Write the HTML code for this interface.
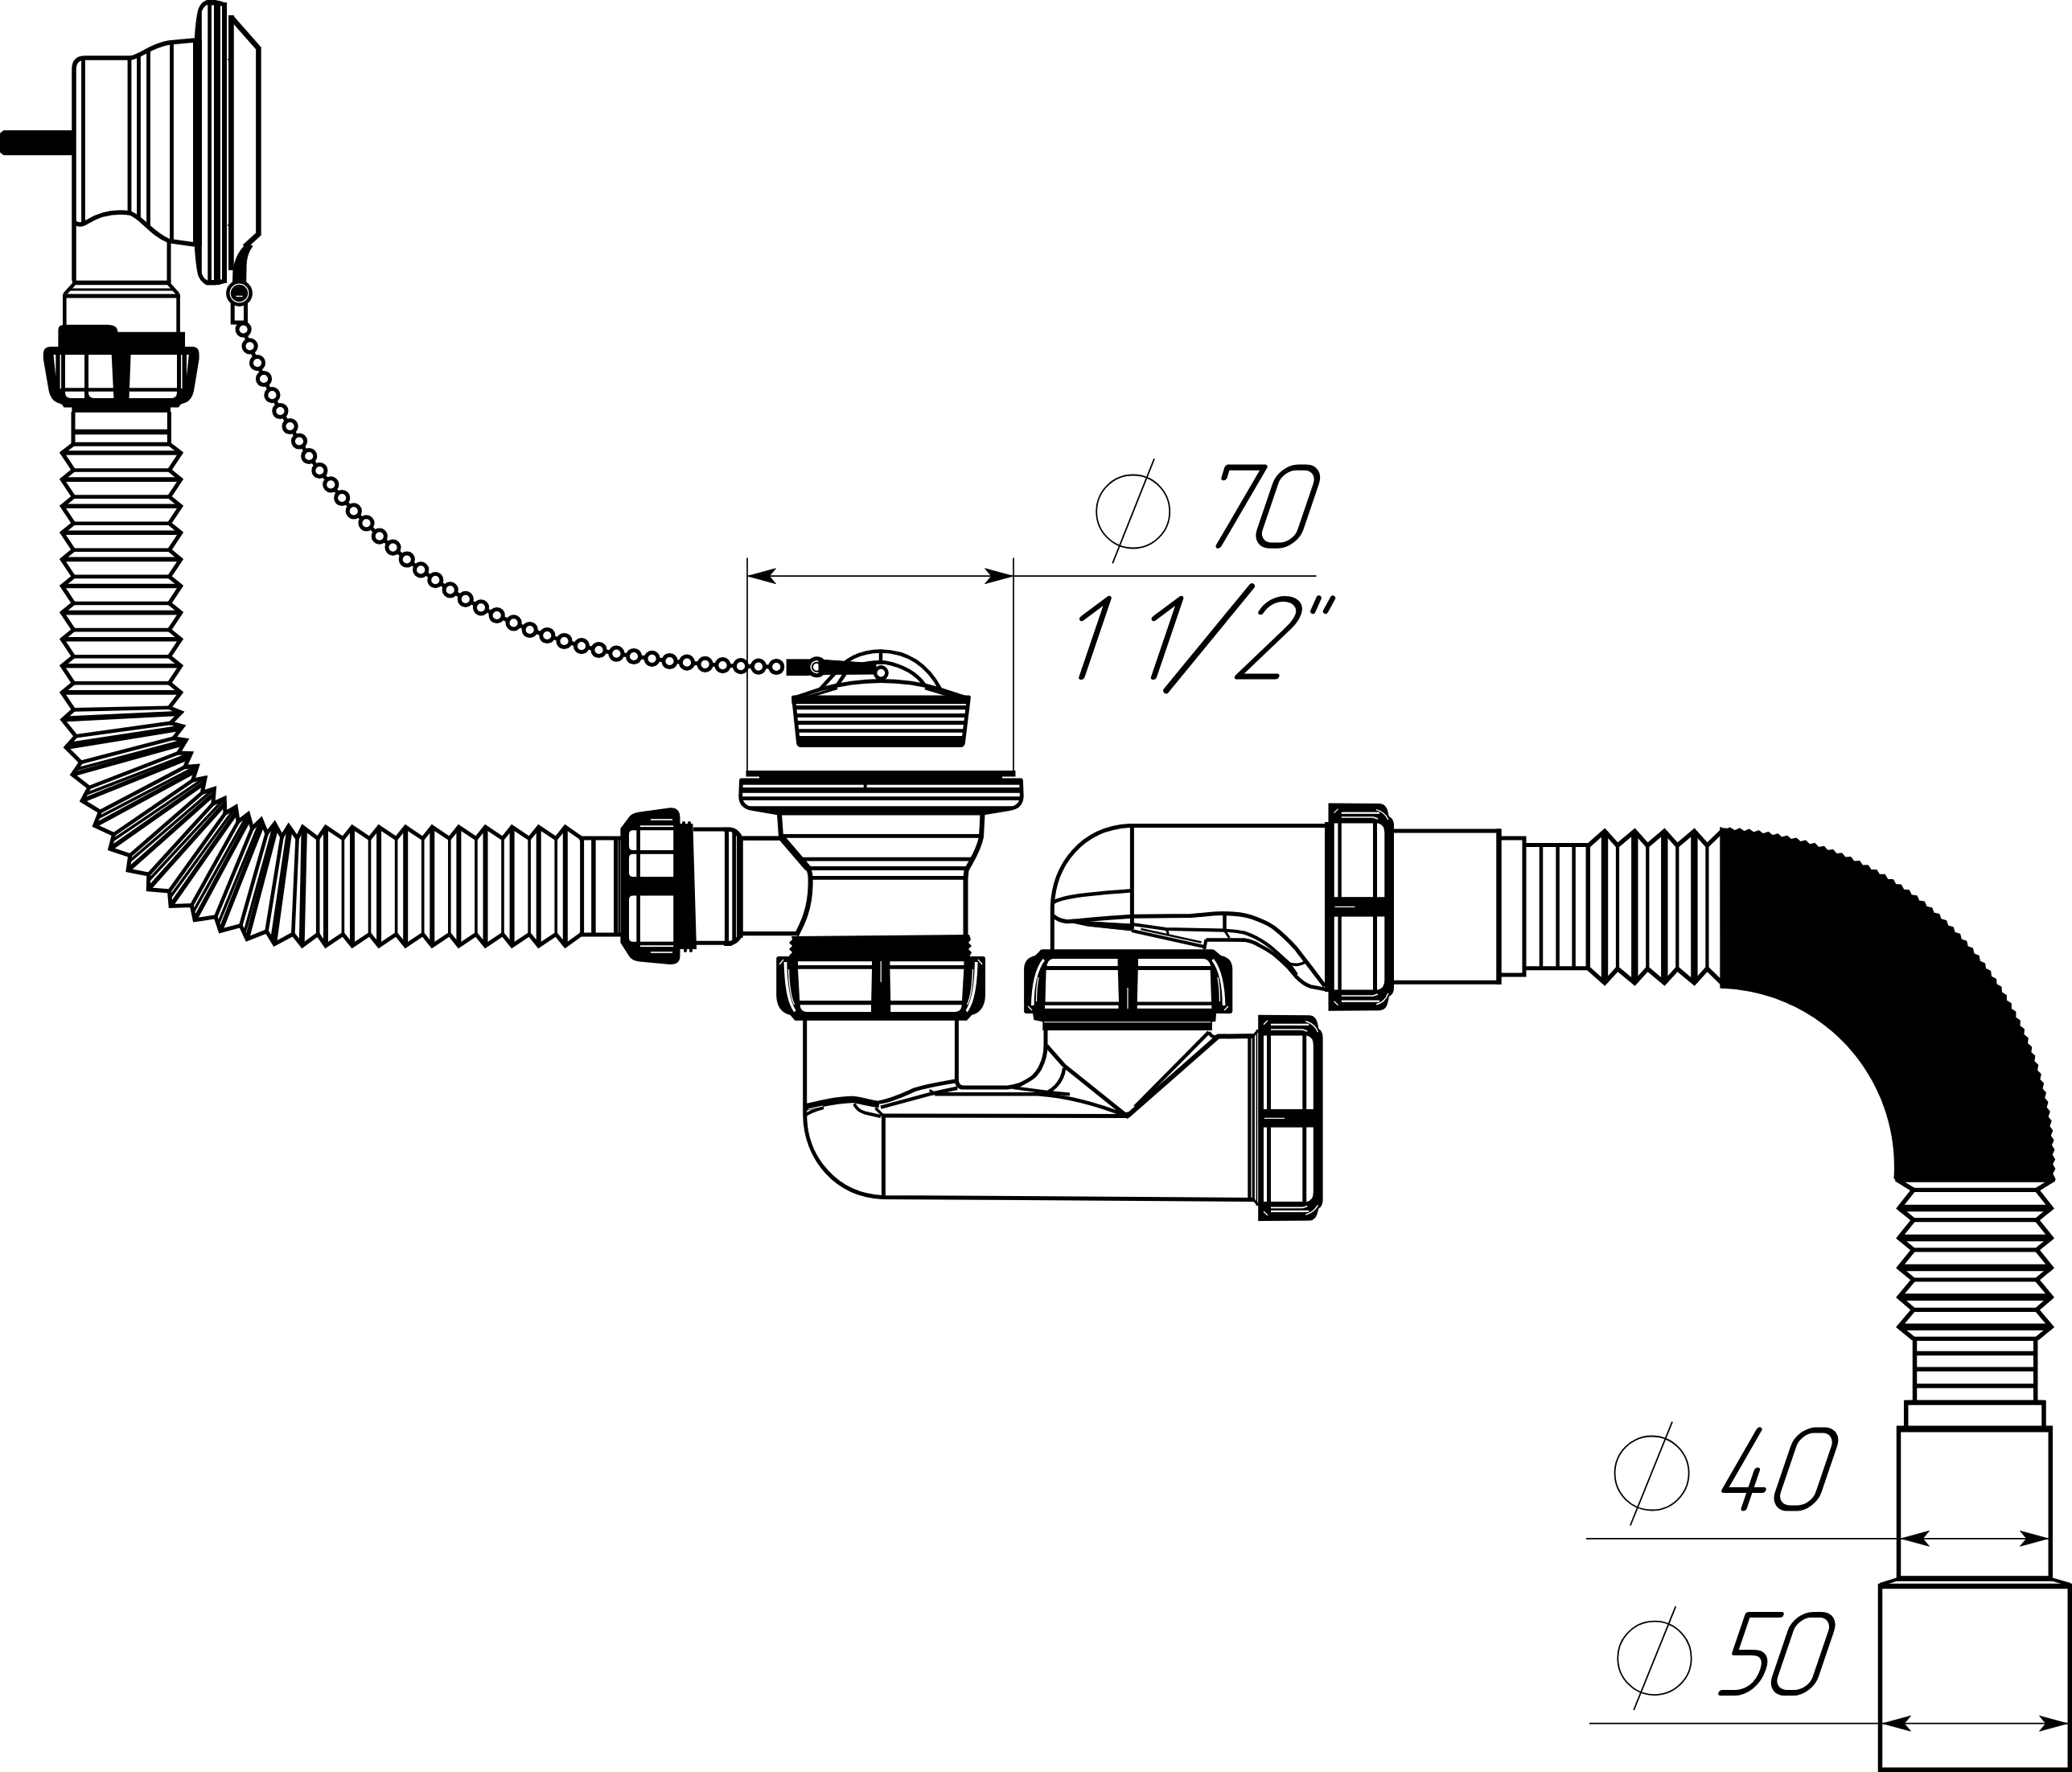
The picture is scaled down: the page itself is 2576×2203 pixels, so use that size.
<!DOCTYPE html>
<html><head><meta charset="utf-8">
<style>html,body{margin:0;padding:0;background:#fff;font-family:"Liberation Sans",sans-serif}body{width:2576px;height:2203px;overflow:hidden}svg{display:block;position:absolute;left:0;top:0}</style>
</head><body>
<svg width="2576" height="2203" viewBox="0 0 2576 2203" shape-rendering="geometricPrecision">
<rect x="0" y="0" width="2576" height="2203" fill="#fff"/>
<rect x="2" y="162" width="91" height="31" fill="#000" rx="4"/>
<rect x="0" y="164" width="6" height="27" fill="#000" rx="3"/>
<path d="M92 349 L92 86 Q92 72 106 72 L162 72 C176 70 184 58 210 53 L242 50" fill="none" stroke="#000" stroke-width="5.5" stroke-linejoin="round" stroke-linecap="butt"/>
<path d="M92 276 Q99 282 108 276 C124 266 142 262 162 265 C176 270 190 292 210 299.5 L242 304" fill="none" stroke="#000" stroke-width="5.5" stroke-linejoin="round" stroke-linecap="butt"/>
<line x1="103.5" y1="74" x2="103.5" y2="276" stroke="#000" stroke-width="4.8" stroke-linecap="butt"/>
<line x1="161" y1="74" x2="161" y2="264" stroke="#000" stroke-width="4.8" stroke-linecap="butt"/>
<line x1="172.5" y1="68" x2="172.5" y2="272" stroke="#000" stroke-width="4.8" stroke-linecap="butt"/>
<line x1="184.5" y1="60" x2="184.5" y2="284" stroke="#000" stroke-width="4.8" stroke-linecap="butt"/>
<line x1="213.5" y1="53" x2="213.5" y2="301" stroke="#000" stroke-width="4.8" stroke-linecap="butt"/>
<line x1="210" y1="299" x2="210" y2="350" stroke="#000" stroke-width="5" stroke-linecap="butt"/>
<rect x="240" y="49" width="11" height="256" fill="#000"/>
<path d="M240 52 L241.8 48 C243 30 244.5 18 246.7 10.8 Q249 5 253 2.2 L257 0 L268 0 L276 2 L282 4.5 L282 8 L258 6 Q254 7.5 252.5 11 L250.8 14 L250.8 52 Z" fill="#000"/>
<path d="M240 302 L241.8 306 C243 324 244.5 336 246.7 343.5 Q249 349 253 352 L257 354.5 L268 354.5 L276 353 L282 351 L282 347 L258 348.5 Q254 347 252.5 343.5 L250.8 340 L250.8 302 Z" fill="#000"/>
<line x1="260.6" y1="3" x2="260.6" y2="352" stroke="#000" stroke-width="4.7" stroke-linecap="butt"/>
<line x1="270" y1="1" x2="270" y2="354" stroke="#000" stroke-width="8" stroke-linecap="butt"/>
<line x1="279" y1="3" x2="279" y2="352" stroke="#000" stroke-width="6" stroke-linecap="butt"/>
<path d="M287.4 19 L287.4 336" fill="none" stroke="#000" stroke-width="6.7" stroke-linejoin="round" stroke-linecap="butt"/>
<path d="M287 21 L321.4 60 L321.4 291 L304 307" fill="none" stroke="#000" stroke-width="6.5" stroke-linejoin="miter" stroke-linecap="butt"/>
<line x1="283" y1="74" x2="286" y2="74" stroke="#000" stroke-width="2" stroke-linecap="butt"/>
<line x1="283" y1="280" x2="286" y2="280" stroke="#000" stroke-width="2" stroke-linecap="butt"/>
<path d="M307 303 C298 310 292 322 290 336 L289.5 352 L305.7 352 L306 334 C306 322 308 314 314 306 Z" fill="#000" stroke="#000" stroke-width="1" stroke-linejoin="round" stroke-linecap="butt"/>
<circle cx="297.5" cy="364.5" r="8.2" fill="#000" stroke="#000" stroke-width="16.4"/>
<circle cx="297.5" cy="364.5" r="11.3" fill="none" stroke="#fff" stroke-width="1.2"/>
<line x1="293.5" y1="368.3" x2="301.5" y2="368.3" stroke="#fff" stroke-width="1.3" stroke-linecap="butt"/>
<path d="M289.2 376 L289.2 401 L305.5 401 L305.5 376" fill="none" stroke="#000" stroke-width="5" stroke-linejoin="miter" stroke-linecap="butt"/>
<line x1="90" y1="351.5" x2="212.5" y2="351.5" stroke="#000" stroke-width="5.5" stroke-linecap="butt"/>
<line x1="92" y1="353" x2="80.3" y2="366" stroke="#000" stroke-width="4.5" stroke-linecap="butt"/>
<line x1="210" y1="353" x2="221.6" y2="366" stroke="#000" stroke-width="4.5" stroke-linecap="butt"/>
<line x1="86" y1="360" x2="216" y2="360" stroke="#000" stroke-width="3.2" stroke-linecap="butt"/>
<line x1="78" y1="368" x2="224" y2="368" stroke="#000" stroke-width="5" stroke-linecap="butt"/>
<line x1="80.3" y1="366" x2="80.3" y2="432" stroke="#000" stroke-width="4.6" stroke-linecap="butt"/>
<line x1="221.6" y1="366" x2="221.6" y2="432" stroke="#000" stroke-width="4.6" stroke-linecap="butt"/>
<path d="M72.4 432 L72.4 410 Q72.4 403.8 80 403.8 L134 403.8 Q146 404 146.5 412.8 L230 412.8 L230 432 Z" fill="#000"/>
<path d="M62 431 Q53.8 431 53.8 441 L53.8 446 L60.7 486 Q63 496.5 70 500 L77 502.8 L79.5 506.5 L89.4 506.5 L89.4 512.8 L212 512.8 L212 506.5 L222 506.5 L224.5 502.8 L232 500 Q238.5 496.5 241 486 L247.6 446 L247.6 441 Q247.6 431 240 431 Z" fill="#000"/>
<path d="M66.5 441 L69.3 441 L69.3 468 Z" fill="#fff"/>
<path d="M234.8 441 L232 441 L232 468 Z" fill="#fff"/>
<rect x="74.6" y="441" width="1.5" height="42" fill="#fff"/>
<rect x="225" y="441" width="1.5" height="42" fill="#fff"/>
<path d="M81 441 L105 441 L105 495 L88 495 Q81 495 81 488 Z" fill="#fff"/>
<path d="M110 441 L138.7 441 L141.4 495 L117 495 Q110 495 110 488 Z" fill="#fff"/>
<path d="M162.6 441 L220 441 L220 488 Q220 495 213 495 L160.5 495 Z" fill="#fff"/>
<line x1="81" y1="484.5" x2="141" y2="484.5" stroke="#000" stroke-width="4.6" stroke-linecap="butt"/>
<line x1="161" y1="484.5" x2="220" y2="484.5" stroke="#000" stroke-width="4.6" stroke-linecap="butt"/>
<line x1="91" y1="512" x2="91" y2="553" stroke="#000" stroke-width="5" stroke-linecap="butt"/>
<line x1="210.4" y1="512" x2="210.4" y2="553" stroke="#000" stroke-width="5" stroke-linecap="butt"/>
<line x1="91" y1="537" x2="210.4" y2="537" stroke="#000" stroke-width="6.5" stroke-linecap="butt"/>
<line x1="89" y1="552.2" x2="212" y2="552.2" stroke="#000" stroke-width="5" stroke-linecap="butt"/>
<line x1="77.2" y1="563" x2="224.8" y2="563" stroke="#000" stroke-width="5.6" stroke-linecap="butt"/>
<line x1="91.5" y1="584.5" x2="210.5" y2="584.5" stroke="#000" stroke-width="4.6" stroke-linecap="butt"/>
<line x1="77.2" y1="596.1" x2="224.8" y2="596.1" stroke="#000" stroke-width="5.6" stroke-linecap="butt"/>
<line x1="91.5" y1="617.6" x2="210.5" y2="617.6" stroke="#000" stroke-width="4.6" stroke-linecap="butt"/>
<line x1="77.2" y1="629.2" x2="224.8" y2="629.2" stroke="#000" stroke-width="5.6" stroke-linecap="butt"/>
<line x1="91.5" y1="650.7" x2="210.5" y2="650.7" stroke="#000" stroke-width="4.6" stroke-linecap="butt"/>
<line x1="77.2" y1="662.3" x2="224.8" y2="662.3" stroke="#000" stroke-width="5.6" stroke-linecap="butt"/>
<line x1="91.5" y1="683.8" x2="210.5" y2="683.8" stroke="#000" stroke-width="4.6" stroke-linecap="butt"/>
<line x1="77.2" y1="695.4" x2="224.8" y2="695.4" stroke="#000" stroke-width="5.6" stroke-linecap="butt"/>
<line x1="91.5" y1="716.9" x2="210.5" y2="716.9" stroke="#000" stroke-width="4.6" stroke-linecap="butt"/>
<line x1="77.2" y1="728.5" x2="224.8" y2="728.5" stroke="#000" stroke-width="5.6" stroke-linecap="butt"/>
<line x1="91.5" y1="750" x2="210.5" y2="750" stroke="#000" stroke-width="4.6" stroke-linecap="butt"/>
<line x1="77.2" y1="761.6" x2="224.8" y2="761.6" stroke="#000" stroke-width="5.6" stroke-linecap="butt"/>
<line x1="91.5" y1="783.1" x2="210.5" y2="783.1" stroke="#000" stroke-width="4.6" stroke-linecap="butt"/>
<line x1="77.2" y1="794.7" x2="224.8" y2="794.7" stroke="#000" stroke-width="5.6" stroke-linecap="butt"/>
<line x1="91.5" y1="816.2" x2="210.5" y2="816.2" stroke="#000" stroke-width="4.6" stroke-linecap="butt"/>
<line x1="77.2" y1="827.8" x2="224.8" y2="827.8" stroke="#000" stroke-width="5.6" stroke-linecap="butt"/>
<line x1="91.5" y1="849.3" x2="210.5" y2="849.3" stroke="#000" stroke-width="4.6" stroke-linecap="butt"/>
<line x1="77.2" y1="860.9" x2="224.8" y2="860.9" stroke="#000" stroke-width="5.6" stroke-linecap="butt"/>
<line x1="91.6" y1="882.4" x2="210.5" y2="879.7" stroke="#000" stroke-width="4.6" stroke-linecap="butt"/>
<line x1="77.8" y1="894.8" x2="223.4" y2="887.1" stroke="#000" stroke-width="5.6" stroke-linecap="butt"/>
<line x1="80.4" y1="892.4" x2="225.1" y2="885.6" stroke="#000" stroke-width="3.6" stroke-linecap="butt"/>
<line x1="94.2" y1="915.3" x2="212.1" y2="898.9" stroke="#000" stroke-width="4.6" stroke-linecap="butt"/>
<line x1="82" y1="929.2" x2="224.7" y2="906" stroke="#000" stroke-width="5.6" stroke-linecap="butt"/>
<line x1="85.9" y1="924.5" x2="227.2" y2="903" stroke="#000" stroke-width="3.6" stroke-linecap="butt"/>
<line x1="100.6" y1="947.7" x2="215.8" y2="917.8" stroke="#000" stroke-width="4.6" stroke-linecap="butt"/>
<line x1="90.1" y1="962.9" x2="228.6" y2="924.3" stroke="#000" stroke-width="5.6" stroke-linecap="butt"/>
<line x1="94.4" y1="956.5" x2="231.3" y2="920.1" stroke="#000" stroke-width="3.6" stroke-linecap="butt"/>
<line x1="110.8" y1="979.1" x2="221.7" y2="936.1" stroke="#000" stroke-width="4.6" stroke-linecap="butt"/>
<line x1="102" y1="995.5" x2="234.8" y2="941.8" stroke="#000" stroke-width="5.6" stroke-linecap="butt"/>
<line x1="106.1" y1="987.5" x2="237.4" y2="936.7" stroke="#000" stroke-width="3.6" stroke-linecap="butt"/>
<line x1="124.4" y1="1009.1" x2="229.7" y2="953.6" stroke="#000" stroke-width="4.6" stroke-linecap="butt"/>
<line x1="117.7" y1="1026.4" x2="243.2" y2="958.2" stroke="#000" stroke-width="5.6" stroke-linecap="butt"/>
<line x1="121.1" y1="1017.2" x2="245.3" y2="952.4" stroke="#000" stroke-width="3.6" stroke-linecap="butt"/>
<line x1="141.5" y1="1037.4" x2="239.7" y2="970.1" stroke="#000" stroke-width="4.6" stroke-linecap="butt"/>
<line x1="136.8" y1="1055.4" x2="253.5" y2="973.5" stroke="#000" stroke-width="5.6" stroke-linecap="butt"/>
<line x1="139.3" y1="1045.3" x2="255" y2="967.1" stroke="#000" stroke-width="3.6" stroke-linecap="butt"/>
<line x1="161.7" y1="1063.5" x2="251.4" y2="985.4" stroke="#000" stroke-width="4.6" stroke-linecap="butt"/>
<line x1="159.1" y1="1081.9" x2="265.6" y2="987.3" stroke="#000" stroke-width="5.6" stroke-linecap="butt"/>
<line x1="160.4" y1="1071.4" x2="266.4" y2="980.5" stroke="#000" stroke-width="3.6" stroke-linecap="butt"/>
<line x1="184.8" y1="1087.1" x2="264.9" y2="999.1" stroke="#000" stroke-width="4.6" stroke-linecap="butt"/>
<line x1="184.3" y1="1105.7" x2="279.2" y2="999.4" stroke="#000" stroke-width="5.6" stroke-linecap="butt"/>
<line x1="184.4" y1="1095" x2="279.2" y2="992.6" stroke="#000" stroke-width="3.6" stroke-linecap="butt"/>
<line x1="210.5" y1="1107.9" x2="279.9" y2="1011.2" stroke="#000" stroke-width="4.6" stroke-linecap="butt"/>
<line x1="212.1" y1="1126.4" x2="294" y2="1009.7" stroke="#000" stroke-width="5.6" stroke-linecap="butt"/>
<line x1="211" y1="1116.1" x2="293.3" y2="1003.1" stroke="#000" stroke-width="3.6" stroke-linecap="butt"/>
<line x1="238.3" y1="1125.6" x2="296.1" y2="1021.5" stroke="#000" stroke-width="4.6" stroke-linecap="butt"/>
<line x1="242.1" y1="1143.7" x2="309.9" y2="1018" stroke="#000" stroke-width="5.6" stroke-linecap="butt"/>
<line x1="240" y1="1134.2" x2="308.5" y2="1011.9" stroke="#000" stroke-width="3.6" stroke-linecap="butt"/>
<line x1="268.1" y1="1139.9" x2="313.5" y2="1029.9" stroke="#000" stroke-width="4.6" stroke-linecap="butt"/>
<line x1="273.9" y1="1157.5" x2="326.6" y2="1024.3" stroke="#000" stroke-width="5.6" stroke-linecap="butt"/>
<line x1="271" y1="1149.1" x2="324.7" y2="1018.9" stroke="#000" stroke-width="3.6" stroke-linecap="butt"/>
<line x1="299.3" y1="1150.7" x2="331.7" y2="1036.2" stroke="#000" stroke-width="4.6" stroke-linecap="butt"/>
<line x1="307.1" y1="1167.5" x2="343.7" y2="1028.5" stroke="#000" stroke-width="5.6" stroke-linecap="butt"/>
<line x1="303.7" y1="1160.5" x2="341.5" y2="1024" stroke="#000" stroke-width="3.6" stroke-linecap="butt"/>
<line x1="331.5" y1="1157.9" x2="350.5" y2="1040.4" stroke="#000" stroke-width="4.6" stroke-linecap="butt"/>
<line x1="341.2" y1="1173.7" x2="360.9" y2="1030.4" stroke="#000" stroke-width="5.6" stroke-linecap="butt"/>
<line x1="337.9" y1="1168.5" x2="358.8" y2="1027.1" stroke="#000" stroke-width="3.6" stroke-linecap="butt"/>
<line x1="364.3" y1="1161.2" x2="369.6" y2="1042.3" stroke="#000" stroke-width="4.6" stroke-linecap="butt"/>
<line x1="375.8" y1="1175.8" x2="379.2" y2="1030" stroke="#000" stroke-width="5.6" stroke-linecap="butt"/>
<line x1="373.6" y1="1173" x2="376.4" y2="1028.2" stroke="#000" stroke-width="3.6" stroke-linecap="butt"/>
<line x1="395.2" y1="1161.5" x2="395.2" y2="1042.5" stroke="#000" stroke-width="4.6" stroke-linecap="butt"/>
<line x1="405" y1="1175.8" x2="405" y2="1028.2" stroke="#000" stroke-width="6" stroke-linecap="butt"/>
<line x1="426.4" y1="1161.5" x2="426.4" y2="1042.5" stroke="#000" stroke-width="3.6" stroke-linecap="butt"/>
<line x1="438" y1="1175.8" x2="438" y2="1028.2" stroke="#000" stroke-width="6" stroke-linecap="butt"/>
<line x1="459.5" y1="1161.5" x2="459.5" y2="1042.5" stroke="#000" stroke-width="3.6" stroke-linecap="butt"/>
<line x1="471.1" y1="1175.8" x2="471.1" y2="1028.2" stroke="#000" stroke-width="6" stroke-linecap="butt"/>
<line x1="492.6" y1="1161.5" x2="492.6" y2="1042.5" stroke="#000" stroke-width="3.6" stroke-linecap="butt"/>
<line x1="504.2" y1="1175.8" x2="504.2" y2="1028.2" stroke="#000" stroke-width="6" stroke-linecap="butt"/>
<line x1="525.7" y1="1161.5" x2="525.7" y2="1042.5" stroke="#000" stroke-width="3.6" stroke-linecap="butt"/>
<line x1="537.3" y1="1175.8" x2="537.3" y2="1028.2" stroke="#000" stroke-width="6" stroke-linecap="butt"/>
<line x1="558.8" y1="1161.5" x2="558.8" y2="1042.5" stroke="#000" stroke-width="3.6" stroke-linecap="butt"/>
<line x1="570.4" y1="1175.8" x2="570.4" y2="1028.2" stroke="#000" stroke-width="6" stroke-linecap="butt"/>
<line x1="591.9" y1="1161.5" x2="591.9" y2="1042.5" stroke="#000" stroke-width="3.6" stroke-linecap="butt"/>
<line x1="603.5" y1="1175.8" x2="603.5" y2="1028.2" stroke="#000" stroke-width="6" stroke-linecap="butt"/>
<line x1="625" y1="1161.5" x2="625" y2="1042.5" stroke="#000" stroke-width="3.6" stroke-linecap="butt"/>
<line x1="636.6" y1="1175.8" x2="636.6" y2="1028.2" stroke="#000" stroke-width="6" stroke-linecap="butt"/>
<line x1="658.1" y1="1161.5" x2="658.1" y2="1042.5" stroke="#000" stroke-width="3.6" stroke-linecap="butt"/>
<line x1="669.7" y1="1175.8" x2="669.7" y2="1028.2" stroke="#000" stroke-width="6" stroke-linecap="butt"/>
<line x1="691.2" y1="1161.5" x2="691.2" y2="1042.5" stroke="#000" stroke-width="3.6" stroke-linecap="butt"/>
<line x1="702.8" y1="1175.8" x2="702.8" y2="1028.2" stroke="#000" stroke-width="6" stroke-linecap="butt"/>
<path d="M91.5 552.1 L77.2 563 L91.5 584.5 L77.2 596.1 L91.5 617.6 L77.2 629.2 L91.5 650.7 L77.2 662.3 L91.5 683.8 L77.2 695.4 L91.5 716.9 L77.2 728.5 L91.5 750 L77.2 761.6 L91.5 783.1 L77.2 794.7 L91.5 816.2 L77.2 827.8 L91.5 849.3 L77.2 860.9 L91.6 882.4 L77.8 894.8 L94.2 915.3 L82 929.2 L100.6 947.7 L90.1 962.9 L110.8 979.1 L102 995.5 L124.4 1009.1 L117.7 1026.4 L141.5 1037.4 L136.8 1055.4 L161.7 1063.5 L159.1 1081.9 L184.8 1087.1 L184.3 1105.7 L210.5 1107.9 L212.1 1126.4 L238.3 1125.6 L242.1 1143.7 L268.1 1139.9 L273.9 1157.5 L299.3 1150.7 L307.1 1167.5 L331.5 1157.9 L341.2 1173.7 L364.3 1161.2 L375.8 1175.8 L395.2 1161.5 L405 1175.8 L426.4 1161.5 L438 1175.8 L459.5 1161.5 L471.1 1175.8 L492.6 1161.5 L504.2 1175.8 L525.7 1161.5 L537.3 1175.8 L558.8 1161.5 L570.4 1175.8 L591.9 1161.5 L603.5 1175.8 L625 1161.5 L636.6 1175.8 L658.1 1161.5 L669.7 1175.8 L691.2 1161.5 L702.8 1175.8 L722 1162" fill="none" stroke="#000" stroke-width="5" stroke-linejoin="miter" stroke-linecap="butt"/>
<path d="M210.5 552.1 L224.8 563 L210.5 584.5 L224.8 596.1 L210.5 617.6 L224.8 629.2 L210.5 650.7 L224.8 662.3 L210.5 683.8 L224.8 695.4 L210.5 716.9 L224.8 728.5 L210.5 750 L224.8 761.6 L210.5 783.1 L224.8 794.7 L210.5 816.2 L224.8 827.8 L210.5 849.3 L224.8 860.9 L210.5 879.7 L225.1 885.6 L212.1 898.9 L227.2 903 L215.8 917.8 L231.3 920.1 L221.7 936.1 L237.4 936.7 L229.7 953.6 L245.3 952.4 L239.7 970.1 L255 967.1 L251.4 985.4 L266.4 980.5 L264.9 999.1 L279.2 992.6 L279.9 1011.2 L293.3 1003.1 L296.1 1021.5 L308.5 1011.9 L313.5 1029.9 L324.7 1018.9 L331.7 1036.2 L341.5 1024 L350.5 1040.4 L358.8 1027.1 L369.6 1042.3 L376.4 1028.2 L395.2 1042.5 L405 1028.2 L426.4 1042.5 L438 1028.2 L459.5 1042.5 L471.1 1028.2 L492.6 1042.5 L504.2 1028.2 L525.7 1042.5 L537.3 1028.2 L558.8 1042.5 L570.4 1028.2 L591.9 1042.5 L603.5 1028.2 L625 1042.5 L636.6 1028.2 L658.1 1042.5 L669.7 1028.2 L691.2 1042.5 L702.8 1028.2 L722 1041.5" fill="none" stroke="#000" stroke-width="5" stroke-linejoin="miter" stroke-linecap="butt"/>
<line x1="720" y1="1042" x2="772" y2="1042" stroke="#000" stroke-width="5" stroke-linecap="butt"/>
<line x1="720" y1="1162" x2="772" y2="1162" stroke="#000" stroke-width="5" stroke-linecap="butt"/>
<line x1="723.6" y1="1041" x2="723.6" y2="1163" stroke="#000" stroke-width="5" stroke-linecap="butt"/>
<line x1="737.9" y1="1041" x2="737.9" y2="1163" stroke="#000" stroke-width="5.5" stroke-linecap="butt"/>
<line x1="765.8" y1="1041" x2="765.8" y2="1163" stroke="#000" stroke-width="5.5" stroke-linecap="butt"/>
<line x1="770" y1="1041" x2="770" y2="1163" stroke="#000" stroke-width="2" stroke-linecap="butt"/>
<path d="M771.4 1030 L771.4 1172 L783 1190 Q787 1194.5 795 1195.5 L833 1199 Q845.5 1199.5 845.5 1188 L845.5 1016 Q845 1003.5 833 1004.3 L795 1009.5 Q787 1010.5 783 1014.5 Z" fill="#000"/>
<path d="M837 1024 L861.4 1024 L866 1180 L837 1180 Z" fill="#000"/>
<rect x="848" y="1021" width="4" height="6" fill="#000" rx="2"/>
<rect x="855" y="1021" width="4" height="6" fill="#000" rx="2"/>
<rect x="850" y="1178" width="4" height="6" fill="#000" rx="2"/>
<rect x="857" y="1178" width="4" height="6" fill="#000" rx="2"/>
<path d="M791.3 1032.2 L787 1032.2 Q782 1032.2 782 1037.2 L782 1052 Q782 1057 787 1057 L791.3 1057 Z" fill="#fff"/>
<path d="M791.3 1061.8 L787 1061.8 Q782 1061.8 782 1066.8 L782 1085 Q782 1090 787 1090 L791.3 1090 Z" fill="#fff"/>
<path d="M791.3 1113.5 L787 1113.5 Q782 1113.5 782 1118.5 L782 1165.7 Q782 1170.7 787 1170.7 L791.3 1170.7 Z" fill="#fff"/>
<rect x="795.9" y="1032.2" width="41.3" height="24.8" fill="#fff"/>
<rect x="795.9" y="1061.8" width="41.3" height="28.2" fill="#fff"/>
<rect x="795.9" y="1113.5" width="41.3" height="57.2" fill="#fff"/>
<rect x="795.9" y="1026.3" width="41.3" height="1.8" fill="#fff"/>
<rect x="795.9" y="1175.3" width="41.3" height="1.8" fill="#fff"/>
<rect x="809" y="1018.2" width="27" height="1.6" fill="#fff"/>
<rect x="809" y="1183.2" width="27" height="1.6" fill="#fff"/>
<path d="M862 1031 L908 1031 Q917 1032 921 1042 L921 1161 Q917 1171 908 1172.3 L864 1172.3" fill="none" stroke="#000" stroke-width="5" stroke-linejoin="round" stroke-linecap="butt"/>
<line x1="903.6" y1="1031" x2="903.6" y2="1172" stroke="#000" stroke-width="5" stroke-linecap="butt"/>
<line x1="912.3" y1="1033" x2="912.3" y2="1170" stroke="#000" stroke-width="4" stroke-linecap="butt"/>
<line x1="916.7" y1="1037" x2="916.7" y2="1166" stroke="#000" stroke-width="1.5" stroke-linecap="butt"/>
<line x1="921" y1="1042" x2="972" y2="1042" stroke="#000" stroke-width="5" stroke-linecap="butt"/>
<line x1="921" y1="1161" x2="990" y2="1161" stroke="#000" stroke-width="4.5" stroke-linecap="butt"/>
<circle cx="302.6" cy="409.5" r="7.6" fill="none" stroke="#000" stroke-width="5"/>
<circle cx="310.6" cy="430.4" r="7.6" fill="none" stroke="#000" stroke-width="5"/>
<line x1="305.5" y1="417" x2="307.7" y2="422.9" stroke="#000" stroke-width="5" stroke-linecap="butt"/>
<circle cx="320" cy="451.2" r="7.6" fill="none" stroke="#000" stroke-width="5"/>
<line x1="313.9" y1="437.7" x2="316.7" y2="443.9" stroke="#000" stroke-width="5" stroke-linecap="butt"/>
<circle cx="328" cy="471" r="7.6" fill="none" stroke="#000" stroke-width="5"/>
<line x1="323" y1="458.6" x2="325" y2="463.6" stroke="#000" stroke-width="5" stroke-linecap="butt"/>
<circle cx="338.4" cy="491.2" r="7.6" fill="none" stroke="#000" stroke-width="5"/>
<line x1="331.7" y1="478.1" x2="334.7" y2="484.1" stroke="#000" stroke-width="5" stroke-linecap="butt"/>
<circle cx="348.4" cy="511" r="7.6" fill="none" stroke="#000" stroke-width="5"/>
<line x1="342" y1="498.3" x2="344.8" y2="503.9" stroke="#000" stroke-width="5" stroke-linecap="butt"/>
<circle cx="360.6" cy="530" r="7.6" fill="none" stroke="#000" stroke-width="5"/>
<line x1="352.7" y1="517.7" x2="356.3" y2="523.3" stroke="#000" stroke-width="5" stroke-linecap="butt"/>
<circle cx="372" cy="548.5" r="7.6" fill="none" stroke="#000" stroke-width="5"/>
<line x1="364.8" y1="536.8" x2="367.8" y2="541.7" stroke="#000" stroke-width="5" stroke-linecap="butt"/>
<circle cx="384.2" cy="567" r="7.6" fill="none" stroke="#000" stroke-width="5"/>
<line x1="376.4" y1="555.2" x2="379.8" y2="560.3" stroke="#000" stroke-width="5" stroke-linecap="butt"/>
<circle cx="397.4" cy="585" r="7.6" fill="none" stroke="#000" stroke-width="5"/>
<line x1="388.9" y1="573.5" x2="392.7" y2="578.5" stroke="#000" stroke-width="5" stroke-linecap="butt"/>
<circle cx="411.3" cy="602.4" r="7.6" fill="none" stroke="#000" stroke-width="5"/>
<line x1="402.4" y1="591.3" x2="406.3" y2="596.1" stroke="#000" stroke-width="5" stroke-linecap="butt"/>
<circle cx="425.2" cy="619" r="7.6" fill="none" stroke="#000" stroke-width="5"/>
<line x1="416.4" y1="608.5" x2="420.1" y2="612.9" stroke="#000" stroke-width="5" stroke-linecap="butt"/>
<circle cx="439.8" cy="635.4" r="7.6" fill="none" stroke="#000" stroke-width="5"/>
<line x1="430.5" y1="625" x2="434.5" y2="629.4" stroke="#000" stroke-width="5" stroke-linecap="butt"/>
<circle cx="455.5" cy="650.3" r="7.6" fill="none" stroke="#000" stroke-width="5"/>
<line x1="445.6" y1="640.9" x2="449.7" y2="644.8" stroke="#000" stroke-width="5" stroke-linecap="butt"/>
<circle cx="471.8" cy="666.7" r="7.6" fill="none" stroke="#000" stroke-width="5"/>
<line x1="461.1" y1="656" x2="466.2" y2="661" stroke="#000" stroke-width="5" stroke-linecap="butt"/>
<circle cx="488.5" cy="680.6" r="7.6" fill="none" stroke="#000" stroke-width="5"/>
<line x1="477.9" y1="671.8" x2="482.4" y2="675.5" stroke="#000" stroke-width="5" stroke-linecap="butt"/>
<circle cx="505.8" cy="695.5" r="7.6" fill="none" stroke="#000" stroke-width="5"/>
<line x1="494.6" y1="685.8" x2="499.7" y2="690.3" stroke="#000" stroke-width="5" stroke-linecap="butt"/>
<circle cx="523.2" cy="708.4" r="7.6" fill="none" stroke="#000" stroke-width="5"/>
<line x1="512.2" y1="700.3" x2="516.8" y2="703.6" stroke="#000" stroke-width="5" stroke-linecap="butt"/>
<circle cx="541.3" cy="721.2" r="7.6" fill="none" stroke="#000" stroke-width="5"/>
<line x1="529.7" y1="713" x2="534.8" y2="716.6" stroke="#000" stroke-width="5" stroke-linecap="butt"/>
<circle cx="559.7" cy="733.4" r="7.6" fill="none" stroke="#000" stroke-width="5"/>
<line x1="548" y1="725.6" x2="553" y2="729" stroke="#000" stroke-width="5" stroke-linecap="butt"/>
<circle cx="578.8" cy="744.8" r="7.6" fill="none" stroke="#000" stroke-width="5"/>
<line x1="566.6" y1="737.5" x2="571.9" y2="740.7" stroke="#000" stroke-width="5" stroke-linecap="butt"/>
<circle cx="598" cy="755.3" r="7.6" fill="none" stroke="#000" stroke-width="5"/>
<line x1="585.8" y1="748.6" x2="591" y2="751.5" stroke="#000" stroke-width="5" stroke-linecap="butt"/>
<circle cx="617.7" cy="765" r="7.6" fill="none" stroke="#000" stroke-width="5"/>
<line x1="605.2" y1="758.8" x2="610.5" y2="761.5" stroke="#000" stroke-width="5" stroke-linecap="butt"/>
<circle cx="638.6" cy="774.4" r="7.6" fill="none" stroke="#000" stroke-width="5"/>
<line x1="625" y1="768.3" x2="631.3" y2="771.1" stroke="#000" stroke-width="5" stroke-linecap="butt"/>
<circle cx="658.7" cy="783" r="7.6" fill="none" stroke="#000" stroke-width="5"/>
<line x1="646" y1="777.5" x2="651.3" y2="779.9" stroke="#000" stroke-width="5" stroke-linecap="butt"/>
<circle cx="680.3" cy="790" r="7.6" fill="none" stroke="#000" stroke-width="5"/>
<line x1="666.3" y1="785.5" x2="672.7" y2="787.5" stroke="#000" stroke-width="5" stroke-linecap="butt"/>
<circle cx="701.5" cy="797" r="7.6" fill="none" stroke="#000" stroke-width="5"/>
<line x1="687.9" y1="792.5" x2="693.9" y2="794.5" stroke="#000" stroke-width="5" stroke-linecap="butt"/>
<circle cx="723" cy="803.2" r="7.6" fill="none" stroke="#000" stroke-width="5"/>
<line x1="709.2" y1="799.2" x2="715.3" y2="801" stroke="#000" stroke-width="5" stroke-linecap="butt"/>
<circle cx="744.5" cy="808" r="7.6" fill="none" stroke="#000" stroke-width="5"/>
<line x1="730.8" y1="804.9" x2="736.7" y2="806.3" stroke="#000" stroke-width="5" stroke-linecap="butt"/>
<circle cx="766.4" cy="812.6" r="7.6" fill="none" stroke="#000" stroke-width="5"/>
<line x1="752.3" y1="809.6" x2="758.6" y2="811" stroke="#000" stroke-width="5" stroke-linecap="butt"/>
<circle cx="788" cy="816" r="7.6" fill="none" stroke="#000" stroke-width="5"/>
<line x1="774.3" y1="813.8" x2="780.1" y2="814.8" stroke="#000" stroke-width="5" stroke-linecap="butt"/>
<circle cx="810.6" cy="818.8" r="7.6" fill="none" stroke="#000" stroke-width="5"/>
<line x1="795.9" y1="817" x2="802.7" y2="817.8" stroke="#000" stroke-width="5" stroke-linecap="butt"/>
<circle cx="832.5" cy="822" r="7.6" fill="none" stroke="#000" stroke-width="5"/>
<line x1="818.5" y1="820" x2="824.6" y2="820.8" stroke="#000" stroke-width="5" stroke-linecap="butt"/>
<circle cx="854" cy="823.7" r="7.6" fill="none" stroke="#000" stroke-width="5"/>
<line x1="840.5" y1="822.6" x2="846" y2="823.1" stroke="#000" stroke-width="5" stroke-linecap="butt"/>
<circle cx="876.6" cy="825.8" r="7.6" fill="none" stroke="#000" stroke-width="5"/>
<line x1="862" y1="824.4" x2="868.6" y2="825.1" stroke="#000" stroke-width="5" stroke-linecap="butt"/>
<circle cx="898.5" cy="827.2" r="7.6" fill="none" stroke="#000" stroke-width="5"/>
<line x1="884.6" y1="826.3" x2="890.5" y2="826.7" stroke="#000" stroke-width="5" stroke-linecap="butt"/>
<circle cx="921" cy="828.2" r="7.6" fill="none" stroke="#000" stroke-width="5"/>
<line x1="906.5" y1="827.6" x2="913" y2="827.8" stroke="#000" stroke-width="5" stroke-linecap="butt"/>
<circle cx="943" cy="828.6" r="7.6" fill="none" stroke="#000" stroke-width="5"/>
<line x1="929" y1="828.3" x2="935" y2="828.5" stroke="#000" stroke-width="5" stroke-linecap="butt"/>
<circle cx="965.2" cy="829" r="7.6" fill="none" stroke="#000" stroke-width="5"/>
<line x1="951" y1="828.7" x2="957.2" y2="828.9" stroke="#000" stroke-width="5" stroke-linecap="butt"/>
<rect x="977.6" y="819.4" width="29" height="20.6" fill="#000"/>
<path d="M1019.5 857 L1037.5 837.4 C1050 820 1070 810 1095 809.5 C1128 810 1153 827 1168.8 856.3" fill="none" stroke="#000" stroke-width="4.6" stroke-linejoin="round" stroke-linecap="butt"/>
<path d="M1040 853 L1050.7 837.4 C1062 827 1080 822.5 1100 823.5 C1125 828 1140 838 1150 852.2" fill="none" stroke="#000" stroke-width="4.6" stroke-linejoin="round" stroke-linecap="butt"/>
<line x1="1095" y1="809" x2="1095" y2="826" stroke="#000" stroke-width="4.5" stroke-linecap="butt"/>
<path d="M1018 820 L1089 825 L1089 838 L1018 838.5 Z" fill="#000" stroke="#000" stroke-width="1" stroke-linejoin="round" stroke-linecap="butt"/>
<circle cx="1015.4" cy="829.2" r="10.5" fill="none" stroke="#000" stroke-width="5"/>
<circle cx="1015.4" cy="829.2" r="5.5" fill="none" stroke="#000" stroke-width="2"/>
<circle cx="1095.3" cy="836.6" r="7.2" fill="#fff" stroke="#000" stroke-width="4.6"/>
<path d="M985 868.6 L1019.5 857 C1050 849 1075 846.5 1095 846.5 C1117 846.5 1142 849 1168.8 857 L1205.7 869" fill="none" stroke="#000" stroke-width="4.8" stroke-linejoin="round" stroke-linecap="butt"/>
<path d="M1004.7 866.5 L1041 855.3" fill="none" stroke="#000" stroke-width="3.5" stroke-linejoin="round" stroke-linecap="butt"/>
<path d="M1185 866 L1150 855.5" fill="none" stroke="#000" stroke-width="3.5" stroke-linejoin="round" stroke-linecap="butt"/>
<path d="M986.5 867 L1204.5 867 L1197.5 923.5 Q1197 926.5 1194 926.5 L996 926.5 Q993 926.5 992.5 923.5 Z" fill="#fff" stroke="#000" stroke-width="4.8" stroke-linejoin="round" stroke-linecap="butt"/>
<rect x="984.5" y="867" width="221.5" height="8.2" fill="#000"/>
<line x1="987" y1="879.6" x2="1204" y2="879.6" stroke="#000" stroke-width="5.2" stroke-linecap="butt"/>
<line x1="988" y1="889.5" x2="1203" y2="889.5" stroke="#000" stroke-width="4.9" stroke-linecap="butt"/>
<line x1="989" y1="898.5" x2="1202" y2="898.5" stroke="#000" stroke-width="4.8" stroke-linecap="butt"/>
<line x1="990" y1="908.5" x2="1201" y2="908.5" stroke="#000" stroke-width="4.5" stroke-linecap="butt"/>
<path d="M990 914.9 L1200 914.9 L1198.5 925 Q1198 928.5 1194 928.5 L996 928.5 Q992.5 928.5 992 925 Z" fill="#000"/>
<line x1="929" y1="693.5" x2="929" y2="959" stroke="#000" stroke-width="1.7" stroke-linecap="butt"/>
<line x1="1260" y1="693.5" x2="1260" y2="959" stroke="#000" stroke-width="1.7" stroke-linecap="butt"/>
<line x1="929" y1="716.2" x2="1636.5" y2="716.2" stroke="#000" stroke-width="1.8" stroke-linecap="butt"/>
<path d="M929.5 716.2 L964.5 706.7 L956.5 716.2 L964.5 725.7 Z" fill="#000" stroke="#000" stroke-width="0.8" stroke-linejoin="miter" stroke-linecap="butt"/>
<path d="M1259.5 716.2 L1224.5 706.7 L1232.5 716.2 L1224.5 725.7 Z" fill="#000" stroke="#000" stroke-width="0.8" stroke-linejoin="miter" stroke-linecap="butt"/>
<path d="M927.5 958 L1262.5 958 L1262.5 965.6 L1246 965.6 L1246 968.5 L944 968.5 L944 965.6 L927.5 965.6 Z" fill="#000"/>
<path d="M921.5 970 L1269.5 970 L1270.3 990 Q1270 1003 1256 1005.5 L1223 1011 L967 1011 L935 1005.5 Q921 1003 920.7 990 Z" fill="#fff" stroke="#000" stroke-width="4.8" stroke-linejoin="round" stroke-linecap="butt"/>
<rect x="920.5" y="969" width="350" height="6.7" fill="#000"/>
<rect x="920" y="979" width="350.5" height="6.8" fill="#000"/>
<line x1="921" y1="992.6" x2="1270" y2="992.6" stroke="#000" stroke-width="4.8" stroke-linecap="butt"/>
<path d="M926 1002.3 L1265 1002.3 L1256 1007 L1223 1012.5 L967 1012.5 L935 1007 Z" fill="#000"/>
<line x1="1075.7" y1="975" x2="1075.7" y2="985" stroke="#000" stroke-width="4" stroke-linecap="butt"/>
<path d="M969 1012 L971 1040.5 L1004.2 1079 Q1007.6 1084 1007.6 1092.5 L1007.6 1100 C1007 1130 998 1148 990 1163" fill="none" stroke="#000" stroke-width="6" stroke-linejoin="round" stroke-linecap="butt"/>
<path d="M1221.5 1012 L1220 1040.5 C1216 1060 1206 1072 1201.5 1082 L1200.5 1092 L1200.5 1164" fill="none" stroke="#000" stroke-width="6" stroke-linejoin="round" stroke-linecap="butt"/>
<line x1="971.5" y1="1041" x2="1004.5" y2="1079.5" stroke="#000" stroke-width="8.2" stroke-linecap="butt"/>
<line x1="970" y1="1039.4" x2="1221" y2="1039.4" stroke="#000" stroke-width="4.8" stroke-linecap="butt"/>
<line x1="993" y1="1068.2" x2="1209" y2="1068.2" stroke="#000" stroke-width="4.8" stroke-linecap="butt"/>
<line x1="1003" y1="1079.5" x2="1203" y2="1079.5" stroke="#000" stroke-width="4.8" stroke-linecap="butt"/>
<line x1="1007" y1="1091.4" x2="1201" y2="1091.4" stroke="#000" stroke-width="4.8" stroke-linecap="butt"/>
<path d="M900 1031.2 L909 1031.5 Q916 1034 920.3 1042.3 L969 1042.3" fill="none" stroke="#000" stroke-width="5" stroke-linejoin="round" stroke-linecap="butt"/>
<line x1="903.4" y1="1033" x2="903.4" y2="1172" stroke="#000" stroke-width="5" stroke-linecap="butt"/>
<line x1="913.3" y1="1036" x2="913.3" y2="1170" stroke="#000" stroke-width="3.6" stroke-linecap="butt"/>
<line x1="920.3" y1="1042" x2="920.3" y2="1166" stroke="#000" stroke-width="6.5" stroke-linecap="butt"/>
<path d="M920.3 1160.6 L991 1160.6" fill="none" stroke="#000" stroke-width="5" stroke-linejoin="round" stroke-linecap="butt"/>
<path d="M920.3 1160 Q919 1170 908 1173.5 L900 1173.5" fill="none" stroke="#000" stroke-width="5" stroke-linejoin="round" stroke-linecap="butt"/>
<path d="M984 1164 L1205 1162 L1207 1168 L1204 1172 L1208 1176 L1204 1180 L1208 1184 L1205 1190 L984 1194 L981 1188 L985 1184 L981 1180 L985 1176 L981 1172 L985 1168 Z" fill="#000"/>
<path d="M968 1189 L1222 1189 Q1225 1189 1225 1192 L1225 1238 Q1224 1258 1208 1262 L1202 1268.7 L988.4 1268.7 L982.5 1262 Q966 1258 965.2 1238 L965.2 1192 Q965.2 1189 968 1189 Z" fill="#000"/>
<rect x="992" y="1195.2" width="92" height="4.8" fill="#fff"/>
<rect x="1106.4" y="1195.2" width="92" height="4.8" fill="#fff"/>
<path d="M992 1204.7 L1084 1204.7 L1083.2 1244.1 L994.2 1244.1 Z" fill="#fff"/>
<path d="M1106.4 1204.7 L1198.3 1204.7 L1196 1244.1 L1107.2 1244.1 Z" fill="#fff"/>
<path d="M994.8 1249.2 L1083 1249.2 L1083 1257.9 L1002 1257.9 Q996 1257.5 994.8 1251 Z" fill="#fff"/>
<path d="M1107.2 1249.2 L1195.5 1249.2 L1195.5 1251 Q1194.5 1257.5 1188 1257.9 L1107.2 1257.9 Z" fill="#fff"/>
<line x1="1095.2" y1="1195" x2="1095.2" y2="1221" stroke="#fff" stroke-width="1.2" stroke-linecap="butt"/>
<path d="M974.6 1196 L978.3 1196 C979 1225 982 1244 989.5 1256 L987.5 1258.5 C979 1247 975.5 1227 974.6 1196 Z" fill="#fff"/>
<path d="M1215.6 1196 L1211.9 1196 C1211.2 1225 1208.2 1244 1200.7 1256 L1202.7 1258.5 C1211.2 1247 1214.7 1227 1215.6 1196 Z" fill="#fff"/>
<path d="M980.5 1205 C981 1225 983 1240 987.5 1249" fill="none" stroke="#fff" stroke-width="1.3" stroke-linejoin="round" stroke-linecap="butt"/>
<path d="M1209.5 1205 C1209 1225 1207 1240 1202.5 1249" fill="none" stroke="#fff" stroke-width="1.3" stroke-linejoin="round" stroke-linecap="butt"/>
<path d="M969 1199 L974 1193" fill="none" stroke="#fff" stroke-width="1.3" stroke-linejoin="round" stroke-linecap="butt"/>
<path d="M1221 1199 L1216 1193" fill="none" stroke="#fff" stroke-width="1.3" stroke-linejoin="round" stroke-linecap="butt"/>
<path d="M1000.7 1268 L1000.7 1386 C1001 1440 1040 1486 1097 1488.4 L1560 1491.6" fill="none" stroke="#000" stroke-width="5" stroke-linejoin="round" stroke-linecap="butt"/>
<line x1="1189.4" y1="1268" x2="1189.4" y2="1346" stroke="#000" stroke-width="5" stroke-linecap="butt"/>
<path d="M1296 1180.3 L1507 1180.3 Q1510 1180.3 1512 1183 L1518 1188 Q1532.3 1191 1532.3 1205 L1532.3 1257 Q1532.3 1260 1529 1260 L1512 1260 L1511.3 1270 L1507 1270.3 L1507 1281 L1296.3 1281 L1296.3 1270.3 L1285.4 1268 L1284 1260 L1276 1260 Q1273.1 1260 1273.1 1257 L1273.1 1205 Q1273.1 1191 1287 1188 L1292 1183 Q1293 1180.3 1296 1180.3 Z" fill="#000"/>
<line x1="1298" y1="1270.7" x2="1505" y2="1270.7" stroke="#fff" stroke-width="1.1" stroke-linecap="butt"/>
<path d="M1308.8 1191.9 L1389.6 1191.9 L1389.6 1201 L1301.5 1201 Q1302.5 1193 1308.8 1191.9 Z" fill="#fff"/>
<path d="M1415 1191.9 L1497 1191.9 Q1503.5 1193 1505 1201 L1415 1201 Z" fill="#fff"/>
<path d="M1300.6 1206 L1389.8 1206 L1391 1245.4 L1299.5 1245.4 Z" fill="#fff"/>
<path d="M1414.8 1206 L1504.7 1206 L1506 1245.4 L1413.8 1245.4 Z" fill="#fff"/>
<rect x="1299" y="1249.8" width="91.5" height="4" fill="#fff"/>
<rect x="1413.8" y="1249.8" width="92.5" height="4" fill="#fff"/>
<line x1="1402" y1="1228" x2="1402" y2="1254" stroke="#fff" stroke-width="1.2" stroke-linecap="butt"/>
<path d="M1282 1250 L1285.6 1250 C1285.6 1225 1290 1206 1299 1194 L1296.5 1192 C1287 1204 1282.5 1224 1282 1250 Z" fill="#fff"/>
<path d="M1523.4 1250 L1519.8 1250 C1519.8 1225 1515.4 1206 1506.4 1194 L1508.9 1192 C1518.4 1204 1522.9 1224 1523.4 1250 Z" fill="#fff"/>
<path d="M1291 1215 C1289 1225 1288.5 1235 1288.5 1245" fill="none" stroke="#fff" stroke-width="1.3" stroke-linejoin="round" stroke-linecap="butt"/>
<path d="M1514 1215 C1516 1225 1516.5 1235 1516.5 1245" fill="none" stroke="#fff" stroke-width="1.3" stroke-linejoin="round" stroke-linecap="butt"/>
<path d="M1278 1251 L1283 1256" fill="none" stroke="#fff" stroke-width="1.3" stroke-linejoin="round" stroke-linecap="butt"/>
<path d="M1527 1251 L1522 1256" fill="none" stroke="#fff" stroke-width="1.3" stroke-linejoin="round" stroke-linecap="butt"/>
<line x1="1098.4" y1="1387" x2="1098.4" y2="1489" stroke="#000" stroke-width="5" stroke-linecap="butt"/>
<path d="M1097 1387 L1401 1387.5" fill="none" stroke="#000" stroke-width="5" stroke-linejoin="round" stroke-linecap="butt"/>
<path d="M1001.5 1376.5 C1025 1371 1045 1366.5 1060.6 1367 C1075 1369 1083 1372 1093 1373" fill="none" stroke="#000" stroke-width="8.5" stroke-linejoin="round" stroke-linecap="butt"/>
<path d="M1001.5 1386 C1010 1381 1016 1379 1024 1377" fill="none" stroke="#000" stroke-width="4" stroke-linejoin="round" stroke-linecap="butt"/>
<path d="M1005 1379 L1023 1375" fill="none" stroke="#fff" stroke-width="1.2" stroke-linejoin="round" stroke-linecap="butt"/>
<path d="M1062 1372.5 C1065 1379 1070 1382 1075.3 1383.5 L1095 1388" fill="none" stroke="#000" stroke-width="4" stroke-linejoin="round" stroke-linecap="butt"/>
<path d="M1088.5 1377.5 L1098 1387.3" fill="none" stroke="#000" stroke-width="3.5" stroke-linejoin="round" stroke-linecap="butt"/>
<path d="M1093 1370.5 C1110 1368 1125 1360 1137.7 1354.5 C1155 1349 1170 1347 1188.6 1343.8" fill="none" stroke="#000" stroke-width="4.8" stroke-linejoin="round" stroke-linecap="butt"/>
<path d="M1095 1376.6 L1159 1359.4 L1190.2 1352.8" fill="none" stroke="#000" stroke-width="4.6" stroke-linejoin="round" stroke-linecap="butt"/>
<path d="M1155.7 1355.3 L1160.7 1358.6" fill="none" stroke="#000" stroke-width="3" stroke-linejoin="round" stroke-linecap="butt"/>
<path d="M1189.4 1343 Q1190 1352 1198 1352 L1252.6 1352 C1262 1351 1264 1350 1269 1348 C1277 1344 1281 1342 1285.4 1338 C1290 1333 1292 1330 1293.6 1326.6 C1298 1318 1300 1310 1300 1300 L1300 1281" fill="none" stroke="#000" stroke-width="5" stroke-linejoin="round" stroke-linecap="butt"/>
<path d="M1162.3 1360.2 L1290 1360.2 C1330 1363 1365 1373 1401 1387.5" fill="none" stroke="#000" stroke-width="4.5" stroke-linejoin="round" stroke-linecap="butt"/>
<path d="M1259 1352 L1301.8 1357.8 L1330 1360.5" fill="none" stroke="#000" stroke-width="4" stroke-linejoin="round" stroke-linecap="butt"/>
<path d="M1301 1300 L1323 1325 L1401 1387.5" fill="none" stroke="#000" stroke-width="5" stroke-linejoin="miter" stroke-linecap="butt"/>
<path d="M1323 1328 C1322 1338 1318 1344.6 1313 1350 C1309 1354 1306 1356.5 1301.8 1358.6" fill="none" stroke="#000" stroke-width="4.5" stroke-linejoin="round" stroke-linecap="butt"/>
<path d="M1401.7 1387.5 L1514.5 1288.5 L1558 1288" fill="none" stroke="#000" stroke-width="6" stroke-linejoin="miter" stroke-linecap="butt"/>
<path d="M1411 1376 L1503 1283" fill="none" stroke="#000" stroke-width="4.6" stroke-linejoin="round" stroke-linecap="butt"/>
<path d="M1503 1283 Q1506 1291 1514.5 1288.5" fill="none" stroke="#000" stroke-width="4" stroke-linejoin="round" stroke-linecap="butt"/>
<path d="M1392 1384 L1401.7 1391 L1412 1381 Z" fill="#000"/>
<path d="M1308.3 1181 L1308.3 1127.4 C1310 1075 1345 1030 1403.7 1026.5 L1650 1026.5" fill="none" stroke="#000" stroke-width="5" stroke-linejoin="round" stroke-linecap="butt"/>
<line x1="1407.4" y1="1026.5" x2="1407.4" y2="1155" stroke="#000" stroke-width="5" stroke-linecap="butt"/>
<path d="M1309.3 1122 C1320 1115 1345 1111.8 1407 1107.2" fill="none" stroke="#000" stroke-width="4.5" stroke-linejoin="round" stroke-linecap="butt"/>
<path d="M1309 1138.4 C1314 1143 1320 1145 1326.7 1145.7 C1340 1145 1363 1142 1407 1139.3 L1480.7 1138.4 C1500 1137 1510 1135.6 1521 1135.6 C1535 1135.6 1546 1137 1555.9 1140.2 C1567 1144 1576 1148 1583.4 1153 C1595 1162 1603 1170 1610.9 1178.7 L1629.3 1202.6 L1647 1226" fill="none" stroke="#000" stroke-width="5" stroke-linejoin="round" stroke-linecap="butt"/>
<path d="M1326.7 1145.7 L1352.4 1145.7 L1407.4 1149 L1407.4 1157 L1352.4 1151.2 Z" fill="#000" stroke="#000" stroke-width="1" stroke-linejoin="round" stroke-linecap="butt"/>
<path d="M1407.4 1149 L1449.5 1155 L1522.9 1156.7" fill="none" stroke="#000" stroke-width="4.2" stroke-linejoin="round" stroke-linecap="butt"/>
<path d="M1407 1157 L1497.2 1177" fill="none" stroke="#000" stroke-width="4.2" stroke-linejoin="round" stroke-linecap="butt"/>
<path d="M1418.4 1154.9 L1493.6 1171.6" fill="none" stroke="#000" stroke-width="2.6" stroke-linejoin="round" stroke-linecap="butt"/>
<path d="M1450.5 1155 L1452.3 1161.5" fill="none" stroke="#000" stroke-width="3" stroke-linejoin="round" stroke-linecap="butt"/>
<path d="M1499.5 1168 L1497.2 1180" fill="none" stroke="#000" stroke-width="4" stroke-linejoin="round" stroke-linecap="butt"/>
<path d="M1499.5 1168.5 L1546.7 1168.6 C1556 1170 1560 1172 1565 1175 C1573 1179 1578 1182 1583.4 1186 C1592 1193 1597 1198 1601.7 1202.6 L1610.9 1213.6 C1617 1220 1622 1224 1629.3 1226.4 L1648 1230" fill="none" stroke="#000" stroke-width="4.6" stroke-linejoin="round" stroke-linecap="butt"/>
<line x1="1522.5" y1="1137" x2="1522.5" y2="1157" stroke="#000" stroke-width="4.5" stroke-linecap="butt"/>
<path d="M1522.5 1156.7 C1532 1157 1540 1158 1546.7 1159.5 C1554 1162 1560 1164.5 1565 1167.7 C1573 1172 1578 1176 1583.4 1180.5 C1592 1188 1597 1193 1601.7 1197 L1612 1212" fill="none" stroke="#000" stroke-width="4.2" stroke-linejoin="round" stroke-linecap="butt"/>
<path d="M1522.5 1157 L1528.4 1166" fill="none" stroke="#000" stroke-width="3" stroke-linejoin="round" stroke-linecap="butt"/>
<path d="M1600 1196.5 C1608 1201 1616 1200 1624 1195.5" fill="none" stroke="#000" stroke-width="3.6" stroke-linejoin="round" stroke-linecap="butt"/>
<path d="M1564.2 1261.7 L1628.4 1262.2 Q1636.4 1262.7 1638.4 1273.7 L1639.4 1279 Q1644.6 1282 1644.6 1290 L1644.6 1491.4 Q1644.6 1499.4 1639.4 1502.4 L1638.4 1506 Q1636.4 1517 1628.4 1517.5 L1564.2 1518 Z" fill="#000"/>
<rect x="1571" y="1287.5" width="4" height="91.5" fill="#fff"/>
<rect x="1580" y="1287.5" width="39.3" height="91.5" fill="#fff"/>
<rect x="1571" y="1401.6" width="4" height="92.3" fill="#fff"/>
<rect x="1580" y="1401.6" width="39.3" height="92.3" fill="#fff"/>
<path d="M1624.2 1287.5 L1624.8 1287.5 Q1632.8 1289.5 1632.8 1299.5 L1632.8 1379 L1624.2 1379 Z" fill="#fff"/>
<path d="M1624.2 1493.9 L1624.8 1493.9 Q1632.8 1491.9 1632.8 1481.9 L1632.8 1401.6 L1624.2 1401.6 Z" fill="#fff"/>
<line x1="1572" y1="1390.3" x2="1597" y2="1390.3" stroke="#fff" stroke-width="1.2" stroke-linecap="butt"/>
<rect x="1580" y="1272.7" width="47.3" height="2.2" fill="#fff"/>
<rect x="1580" y="1504.8" width="47.3" height="2.2" fill="#fff"/>
<path d="M1580 1280 L1619.3 1280 L1625.3 1282" fill="none" stroke="#fff" stroke-width="1.6" stroke-linejoin="round" stroke-linecap="butt"/>
<path d="M1580 1501.4 L1619.3 1501.4 L1625.3 1499.4" fill="none" stroke="#fff" stroke-width="1.6" stroke-linejoin="round" stroke-linecap="butt"/>
<path d="M1571 1273.7 L1576 1268.7" fill="none" stroke="#fff" stroke-width="1.3" stroke-linejoin="round" stroke-linecap="butt"/>
<path d="M1571 1506 L1576 1511" fill="none" stroke="#fff" stroke-width="1.3" stroke-linejoin="round" stroke-linecap="butt"/>
<path d="M1623.3 1269.7 C1631.3 1271.7 1636.4 1277.7 1638.4 1283" fill="none" stroke="#fff" stroke-width="1.4" stroke-linejoin="round" stroke-linecap="butt"/>
<path d="M1623.3 1510 C1631.3 1508 1636.4 1502 1638.4 1498.4" fill="none" stroke="#fff" stroke-width="1.4" stroke-linejoin="round" stroke-linecap="butt"/>
<path d="M1651.5 998.6 L1715.8 999.1 Q1723.8 999.6 1725.8 1010.6 L1726.8 1015 Q1733 1018 1733 1026 L1733 1228 Q1733 1236 1726.8 1239 L1725.8 1244.8 Q1723.8 1255.8 1715.8 1256.3 L1651.5 1256.8 Z" fill="#000"/>
<rect x="1658.5" y="1023.5" width="4.9" height="91.7" fill="#fff"/>
<rect x="1667.8" y="1023.5" width="39.2" height="91.7" fill="#fff"/>
<rect x="1658.5" y="1139.6" width="4.9" height="90.9" fill="#fff"/>
<rect x="1667.8" y="1139.6" width="39.2" height="90.9" fill="#fff"/>
<path d="M1712 1023.5 L1713.3 1023.5 Q1721.3 1025.5 1721.3 1035.5 L1721.3 1115.2 L1712 1115.2 Z" fill="#fff"/>
<path d="M1712 1230.5 L1713.3 1230.5 Q1721.3 1228.5 1721.3 1218.5 L1721.3 1139.6 L1712 1139.6 Z" fill="#fff"/>
<line x1="1659.5" y1="1127.4" x2="1684.5" y2="1127.4" stroke="#fff" stroke-width="1.2" stroke-linecap="butt"/>
<rect x="1667.8" y="1009.6" width="47.2" height="2.2" fill="#fff"/>
<rect x="1667.8" y="1243.6" width="47.2" height="2.2" fill="#fff"/>
<path d="M1667.8 1016 L1707 1016 L1713 1018" fill="none" stroke="#fff" stroke-width="1.6" stroke-linejoin="round" stroke-linecap="butt"/>
<path d="M1667.8 1238 L1707 1238 L1713 1236" fill="none" stroke="#fff" stroke-width="1.6" stroke-linejoin="round" stroke-linecap="butt"/>
<path d="M1658.5 1010.6 L1663.5 1005.6" fill="none" stroke="#fff" stroke-width="1.3" stroke-linejoin="round" stroke-linecap="butt"/>
<path d="M1658.5 1244.8 L1663.5 1249.8" fill="none" stroke="#fff" stroke-width="1.3" stroke-linejoin="round" stroke-linecap="butt"/>
<path d="M1711 1006.6 C1719 1008.6 1723.8 1014.6 1725.8 1019" fill="none" stroke="#fff" stroke-width="1.4" stroke-linejoin="round" stroke-linecap="butt"/>
<path d="M1711 1248.8 C1719 1246.8 1723.8 1240.8 1725.8 1235" fill="none" stroke="#fff" stroke-width="1.4" stroke-linejoin="round" stroke-linecap="butt"/>
<line x1="1553.4" y1="1287" x2="1553.4" y2="1492" stroke="#000" stroke-width="4.2" stroke-linecap="butt"/>
<line x1="1558.3" y1="1286" x2="1558.3" y2="1493" stroke="#000" stroke-width="3.2" stroke-linecap="butt"/>
<line x1="1562.4" y1="1280" x2="1562.4" y2="1499" stroke="#000" stroke-width="1.6" stroke-linecap="butt"/>
<path d="M1558 1288 Q1562 1283 1565 1281" fill="none" stroke="#000" stroke-width="3" stroke-linejoin="round" stroke-linecap="butt"/>
<path d="M1558 1491 Q1562 1496 1565 1498" fill="none" stroke="#000" stroke-width="3" stroke-linejoin="round" stroke-linecap="butt"/>
<rect x="1647" y="1022" width="11.5" height="211" fill="#000"/>
<path d="M1732 1033 L1863.5 1033 L1863.5 1221.3 L1732 1221.3" fill="none" stroke="#000" stroke-width="5" stroke-linejoin="miter" stroke-linecap="butt"/>
<line x1="1863.5" y1="1030.5" x2="1863.5" y2="1223.8" stroke="#000" stroke-width="6.5" stroke-linecap="butt"/>
<path d="M1866 1042 L1895 1042 L1895 1212 L1866 1212" fill="none" stroke="#000" stroke-width="5" stroke-linejoin="miter" stroke-linecap="butt"/>
<path d="M1895 1050.5 L1975 1050.5 M1895 1203.7 L1975 1203.7" fill="none" stroke="#000" stroke-width="5" stroke-linejoin="round" stroke-linecap="butt"/>
<line x1="1916" y1="1050" x2="1916" y2="1204" stroke="#000" stroke-width="4.5" stroke-linecap="butt"/>
<line x1="1936.6" y1="1050" x2="1936.6" y2="1204" stroke="#000" stroke-width="4.5" stroke-linecap="butt"/>
<line x1="1956.6" y1="1050" x2="1956.6" y2="1204" stroke="#000" stroke-width="4.5" stroke-linecap="butt"/>
<line x1="1974.3" y1="1048" x2="1974.3" y2="1206" stroke="#000" stroke-width="5.5" stroke-linecap="butt"/>
<line x1="1995" y1="1033.4" x2="1995" y2="1222" stroke="#000" stroke-width="8.4" stroke-linecap="butt"/>
<line x1="2011" y1="1051.1" x2="2011" y2="1204.3" stroke="#000" stroke-width="4.2" stroke-linecap="butt"/>
<line x1="2032.3" y1="1033.4" x2="2032.3" y2="1222" stroke="#000" stroke-width="8.4" stroke-linecap="butt"/>
<line x1="2048.3" y1="1051.1" x2="2048.3" y2="1204.3" stroke="#000" stroke-width="4.2" stroke-linecap="butt"/>
<line x1="2069.3" y1="1033.4" x2="2069.3" y2="1222" stroke="#000" stroke-width="8.4" stroke-linecap="butt"/>
<line x1="2085.3" y1="1051.1" x2="2085.3" y2="1204.3" stroke="#000" stroke-width="4.2" stroke-linecap="butt"/>
<line x1="2106.4" y1="1033.4" x2="2106.4" y2="1222" stroke="#000" stroke-width="8.4" stroke-linecap="butt"/>
<line x1="2122.4" y1="1051.1" x2="2122.4" y2="1204.3" stroke="#000" stroke-width="4.2" stroke-linecap="butt"/>
<path d="M1975 1051.1 L1995 1033.4 L2011 1051.1 L2032.3 1033.4 L2048.3 1051.1 L2069.3 1033.4 L2085.3 1051.1 L2106.4 1033.4 L2122.4 1051.1 L2142.7 1031.4" fill="none" stroke="#000" stroke-width="5.5" stroke-linejoin="miter" stroke-linecap="butt"/>
<path d="M1975 1204.3 L1995 1222 L2011 1204.3 L2032.3 1222 L2048.3 1204.3 L2069.3 1222 L2085.3 1204.3 L2106.4 1222 L2122.4 1204.3 L2142.7 1224" fill="none" stroke="#000" stroke-width="5.5" stroke-linejoin="miter" stroke-linecap="butt"/>
<path d="M2139 1028.8 L2144.8 1032.2 L2150.9 1029.3 L2156.7 1032.9 L2162.8 1030.2 L2168.5 1033.9 L2174.7 1031.3 L2180.2 1035.2 L2186.5 1032.9 L2191.9 1036.9 L2198.3 1034.7 L2203.6 1038.9 L2210.1 1036.9 L2215.2 1041.2 L2221.7 1039.4 L2226.8 1043.8 L2233.3 1042.2 L2238.3 1046.8 L2244.8 1045.3 L2249.6 1050.1 L2256.3 1048.8 L2260.9 1053.7 L2267.6 1052.6 L2272.1 1057.6 L2278.8 1056.7 L2283.2 1061.8 L2289.9 1061.1 L2294.1 1066.3 L2300.8 1065.8 L2304.9 1071.2 L2311.7 1070.8 L2315.6 1076.3 L2322.4 1076.1 L2326.1 1081.7 L2332.9 1081.7 L2336.5 1087.4 L2343.3 1087.6 L2346.7 1093.4 L2353.5 1093.8 L2356.8 1099.7 L2363.5 1100.3 L2366.6 1106.3 L2373.3 1107 L2376.3 1113.1 L2383 1114 L2385.8 1120.2 L2392.4 1121.3 L2395.1 1127.5 L2401.7 1128.9 L2404.1 1135.2 L2410.7 1136.7 L2413 1143 L2419.5 1144.7 L2421.6 1151.1 L2428.1 1153 L2430 1159.5 L2436.5 1161.5 L2438.2 1168.1 L2444.6 1170.3 L2446.1 1176.9 L2452.4 1179.3 L2453.8 1185.9 L2460 1188.5 L2461.2 1195.1 L2467.4 1197.9 L2468.4 1204.5 L2474.5 1207.5 L2475.3 1214.2 L2481.3 1217.3 L2481.9 1224 L2487.8 1227.2 L2488.3 1234 L2494.1 1237.4 L2494.3 1244.2 L2500.1 1247.7 L2500.1 1254.5 L2505.7 1258.2 L2505.6 1265 L2511.1 1268.9 L2510.8 1275.6 L2516.2 1279.7 L2515.7 1286.4 L2521 1290.6 L2520.3 1297.3 L2525.5 1301.7 L2524.6 1308.4 L2529.6 1312.8 L2528.6 1319.5 L2533.5 1324.1 L2532.3 1330.8 L2537 1335.5 L2535.6 1342.1 L2540.3 1347 L2538.7 1353.6 L2543.2 1358.6 L2541.4 1365.1 L2545.7 1370.3 L2543.8 1376.7 L2548 1382 L2545.8 1388.4 L2549.9 1393.8 L2547.6 1400.1 L2551.5 1405.6 L2549 1411.8 L2552.8 1417.4 L2550.1 1423.6 L2553.7 1429.3 L2550.9 1435.5 L2554.3 1441.3 L2551.3 1447.3 L2554.6 1453.2 L2551.4 1459.1 L2554.5 1465.1 L2555 1466 L2547 1469 L2366 1469 L2356.5 1466 L2355.2 1465.1 L2355.6 1458.7 L2355.7 1452.3 L2355.6 1445.9 L2355.4 1439.5 L2355 1433.1 L2354.4 1426.8 L2353.6 1420.4 L2352.7 1414.1 L2351.5 1407.8 L2350.2 1401.5 L2348.7 1395.3 L2347 1389.2 L2345.2 1383 L2343.1 1377 L2340.9 1371 L2338.6 1365 L2336 1359.2 L2333.3 1353.4 L2330.4 1347.7 L2327.4 1342 L2324.2 1336.5 L2320.8 1331 L2317.3 1325.7 L2313.7 1320.5 L2309.9 1315.3 L2305.9 1310.3 L2301.8 1305.4 L2297.6 1300.6 L2293.2 1295.9 L2288.7 1291.4 L2284 1287 L2279.3 1282.7 L2274.4 1278.6 L2269.4 1274.6 L2264.3 1270.8 L2259.1 1267.1 L2253.8 1263.5 L2248.3 1260.1 L2242.8 1256.9 L2237.2 1253.8 L2231.5 1250.9 L2225.7 1248.2 L2219.9 1245.6 L2214 1243.2 L2208 1240.9 L2201.9 1238.9 L2195.8 1237 L2189.7 1235.2 L2183.4 1233.7 L2177.2 1232.3 L2170.9 1231.2 L2164.6 1230.2 L2158.3 1229.3 L2151.9 1228.7 L2145.5 1228.3 L2139.1 1228 Z" fill="#000" stroke="#000" stroke-width="1.5" stroke-linejoin="round" stroke-linecap="butt"/>
<rect x="2139" y="1029.5" width="8" height="197" fill="#000"/>
<line x1="2379" y1="1479.3" x2="2532.2" y2="1479.3" stroke="#000" stroke-width="5.2" stroke-linecap="butt"/>
<line x1="2361" y1="1502" x2="2550.2" y2="1502" stroke="#000" stroke-width="8.6" stroke-linecap="butt"/>
<line x1="2379" y1="1516.6" x2="2532.2" y2="1516.6" stroke="#000" stroke-width="5.2" stroke-linecap="butt"/>
<line x1="2361" y1="1539" x2="2550.2" y2="1539" stroke="#000" stroke-width="8.6" stroke-linecap="butt"/>
<line x1="2379" y1="1553.8" x2="2532.2" y2="1553.8" stroke="#000" stroke-width="5.2" stroke-linecap="butt"/>
<line x1="2361" y1="1576" x2="2550.2" y2="1576" stroke="#000" stroke-width="8.6" stroke-linecap="butt"/>
<line x1="2379" y1="1591" x2="2532.2" y2="1591" stroke="#000" stroke-width="5.2" stroke-linecap="butt"/>
<line x1="2361" y1="1612.6" x2="2550.2" y2="1612.6" stroke="#000" stroke-width="8.6" stroke-linecap="butt"/>
<line x1="2379" y1="1628.3" x2="2532.2" y2="1628.3" stroke="#000" stroke-width="5.2" stroke-linecap="butt"/>
<line x1="2361" y1="1649.7" x2="2550.2" y2="1649.7" stroke="#000" stroke-width="8.6" stroke-linecap="butt"/>
<line x1="2379" y1="1664.4" x2="2532.2" y2="1664.4" stroke="#000" stroke-width="5.2" stroke-linecap="butt"/>
<path d="M2357.2 1466 L2379 1479.3 L2361 1502 L2379 1516.6 L2361 1539 L2379 1553.8 L2361 1576 L2379 1591 L2361 1612.6 L2379 1628.3 L2361 1649.7 L2379 1664.4" fill="none" stroke="#000" stroke-width="5.5" stroke-linejoin="miter" stroke-linecap="butt"/>
<path d="M2554 1466 L2532.2 1479.3 L2550.2 1502 L2532.2 1516.6 L2550.2 1539 L2532.2 1553.8 L2550.2 1576 L2532.2 1591 L2550.2 1612.6 L2532.2 1628.3 L2550.2 1649.7 L2532.2 1664.4" fill="none" stroke="#000" stroke-width="5.5" stroke-linejoin="miter" stroke-linecap="butt"/>
<line x1="2380.5" y1="1664" x2="2380.5" y2="1744" stroke="#000" stroke-width="5.5" stroke-linecap="butt"/>
<line x1="2530.7" y1="1664" x2="2530.7" y2="1744" stroke="#000" stroke-width="5.5" stroke-linecap="butt"/>
<line x1="2379" y1="1682.5" x2="2532.2" y2="1682.5" stroke="#000" stroke-width="5.5" stroke-linecap="butt"/>
<line x1="2379" y1="1702.3" x2="2532.2" y2="1702.3" stroke="#000" stroke-width="5.5" stroke-linecap="butt"/>
<line x1="2379" y1="1723" x2="2532.2" y2="1723" stroke="#000" stroke-width="5.5" stroke-linecap="butt"/>
<path d="M2369.7 1774 L2369.7 1743.5 L2541 1743.5 L2541 1774" fill="none" stroke="#000" stroke-width="5.5" stroke-linejoin="miter" stroke-linecap="butt"/>
<line x1="2369.7" y1="1743.7" x2="2541" y2="1743.7" stroke="#000" stroke-width="6" stroke-linecap="butt"/>
<path d="M2360.5 1776 L2549.3 1776 L2549.3 1962.5 L2360.5 1962.5 Z" fill="none" stroke="#000" stroke-width="5.5" stroke-linejoin="miter" stroke-linecap="butt"/>
<line x1="2358" y1="1776.5" x2="2552" y2="1776.5" stroke="#000" stroke-width="8" stroke-linecap="butt"/>
<line x1="2358" y1="1962.5" x2="2552" y2="1962.5" stroke="#000" stroke-width="6.5" stroke-linecap="butt"/>
<path d="M2360 1963 L2337.5 1970 M2549.5 1963 L2573.8 1970" fill="none" stroke="#000" stroke-width="4" stroke-linejoin="round" stroke-linecap="butt"/>
<path d="M2337.5 1972 L2573.3 1972 L2573.3 2200.4 L2337.5 2200.4 Z" fill="none" stroke="#000" stroke-width="5.5" stroke-linejoin="miter" stroke-linecap="butt"/>
<line x1="2335" y1="1972" x2="2576" y2="1972" stroke="#000" stroke-width="6.5" stroke-linecap="butt"/>
<line x1="2335" y1="2200.4" x2="2576" y2="2200.4" stroke="#000" stroke-width="6" stroke-linecap="butt"/>
<line x1="1972" y1="1912.8" x2="2549" y2="1912.8" stroke="#000" stroke-width="1.8" stroke-linecap="butt"/>
<path d="M2363.5 1912.8 L2398.5 1903.3 L2390.5 1912.8 L2398.5 1922.3 Z" fill="#000" stroke="#000" stroke-width="0.8" stroke-linejoin="miter" stroke-linecap="butt"/>
<path d="M2546.5 1912.8 L2511.5 1903.3 L2519.5 1912.8 L2511.5 1922.3 Z" fill="#000" stroke="#000" stroke-width="0.8" stroke-linejoin="miter" stroke-linecap="butt"/>
<line x1="1976" y1="2142.7" x2="2573" y2="2142.7" stroke="#000" stroke-width="1.8" stroke-linecap="butt"/>
<path d="M2340.5 2142.7 L2375.5 2133.2 L2367.5 2142.7 L2375.5 2152.2 Z" fill="#000" stroke="#000" stroke-width="0.8" stroke-linejoin="miter" stroke-linecap="butt"/>
<path d="M2570.5 2142.7 L2535.5 2133.2 L2543.5 2142.7 L2535.5 2152.2 Z" fill="#000" stroke="#000" stroke-width="0.8" stroke-linejoin="miter" stroke-linecap="butt"/>
<circle cx="1408.7" cy="636" r="45.5" fill="none" stroke="#000" stroke-width="1.8"/>
<line x1="1435" y1="570.4" x2="1383.2" y2="700.3" stroke="#000" stroke-width="1.8" stroke-linecap="butt"/>
<circle cx="2053.6" cy="1831.5" r="46" fill="none" stroke="#000" stroke-width="1.8"/>
<line x1="2079" y1="1767.6" x2="2026.9" y2="1896.5" stroke="#000" stroke-width="1.8" stroke-linecap="butt"/>
<circle cx="2057" cy="2061.4" r="45.7" fill="none" stroke="#000" stroke-width="1.8"/>
<line x1="2083.3" y1="1997.2" x2="2031.2" y2="2126" stroke="#000" stroke-width="1.8" stroke-linecap="butt"/>
<path d="M0.5 12.5 L0 0 L46 0 L22.4 97" transform="matrix(1 0 -0.34 1 1525.9 581.2)" fill="none" stroke="#000" stroke-width="7.2" stroke-linecap="round" stroke-linejoin="round"/>
<path d="M20 0 L30.6 0 C41.6 0 50.6 9 50.6 20 L50.6 77 C50.6 88 41.6 97 30.6 97 L20 97 C9 97 0 88 0 77 L0 20 C0 9 9 0 20 0 Z" transform="matrix(1 0 -0.34 1 1592.5 581.2)" fill="none" stroke="#000" stroke-width="7.2" stroke-linecap="round" stroke-linejoin="round"/>
<path d="M17.5 0 L0 74.5 L48 74.5 M32 50 L32 97" transform="matrix(1 0 -0.34 1 2169.3 1778)" fill="none" stroke="#000" stroke-width="7.2" stroke-linecap="round" stroke-linejoin="round"/>
<path d="M20 0 L30.6 0 C41.6 0 50.6 9 50.6 20 L50.6 77 C50.6 88 41.6 97 30.6 97 L20 97 C9 97 0 88 0 77 L0 20 C0 9 9 0 20 0 Z" transform="matrix(1 0 -0.34 1 2236.6 1778)" fill="none" stroke="#000" stroke-width="7.2" stroke-linecap="round" stroke-linejoin="round"/>
<path d="M41 0 L0 0 L0 47 L22 47 C36 47 42 56 42 68 C42 86 32 97 16 97 L0 97" transform="matrix(1 0 -0.34 1 2173 2007.5)" fill="none" stroke="#000" stroke-width="7.2" stroke-linecap="round" stroke-linejoin="round"/>
<path d="M20 0 L30.6 0 C41.6 0 50.6 9 50.6 20 L50.6 77 C50.6 88 41.6 97 30.6 97 L20 97 C9 97 0 88 0 77 L0 20 C0 9 9 0 20 0 Z" transform="matrix(1 0 -0.34 1 2232.9 2007.5)" fill="none" stroke="#000" stroke-width="7.2" stroke-linecap="round" stroke-linejoin="round"/>
<path d="M0 24 L24 0 L24 97" transform="matrix(1 0 -0.34 1 1354 744.5)" fill="none" stroke="#000" stroke-width="7.2" stroke-linecap="round" stroke-linejoin="round"/>
<path d="M0 24 L24 0 L24 97" transform="matrix(1 0 -0.34 1 1443.6 744.5)" fill="none" stroke="#000" stroke-width="7.2" stroke-linecap="round" stroke-linejoin="round"/>
<path d="M2 16 C5 6 14 0 25 0 C38 0 49 8 49 19 C49 27 45 33 40 40 L0 96.5 L48 96.5" transform="matrix(1 0 -0.34 1 1571.6 744.5)" fill="none" stroke="#000" stroke-width="7.2" stroke-linecap="round" stroke-linejoin="round"/>
<line x1="1556.4" y1="728.7" x2="1449.8" y2="858.6" stroke="#000" stroke-width="7.2" stroke-linecap="round"/>
<line x1="1639.6" y1="743.5" x2="1632.3" y2="760" stroke="#000" stroke-width="6.4" stroke-linecap="round"/>
<line x1="1657" y1="743.5" x2="1648" y2="760" stroke="#000" stroke-width="6.4" stroke-linecap="round"/>
</svg>
</body></html>
